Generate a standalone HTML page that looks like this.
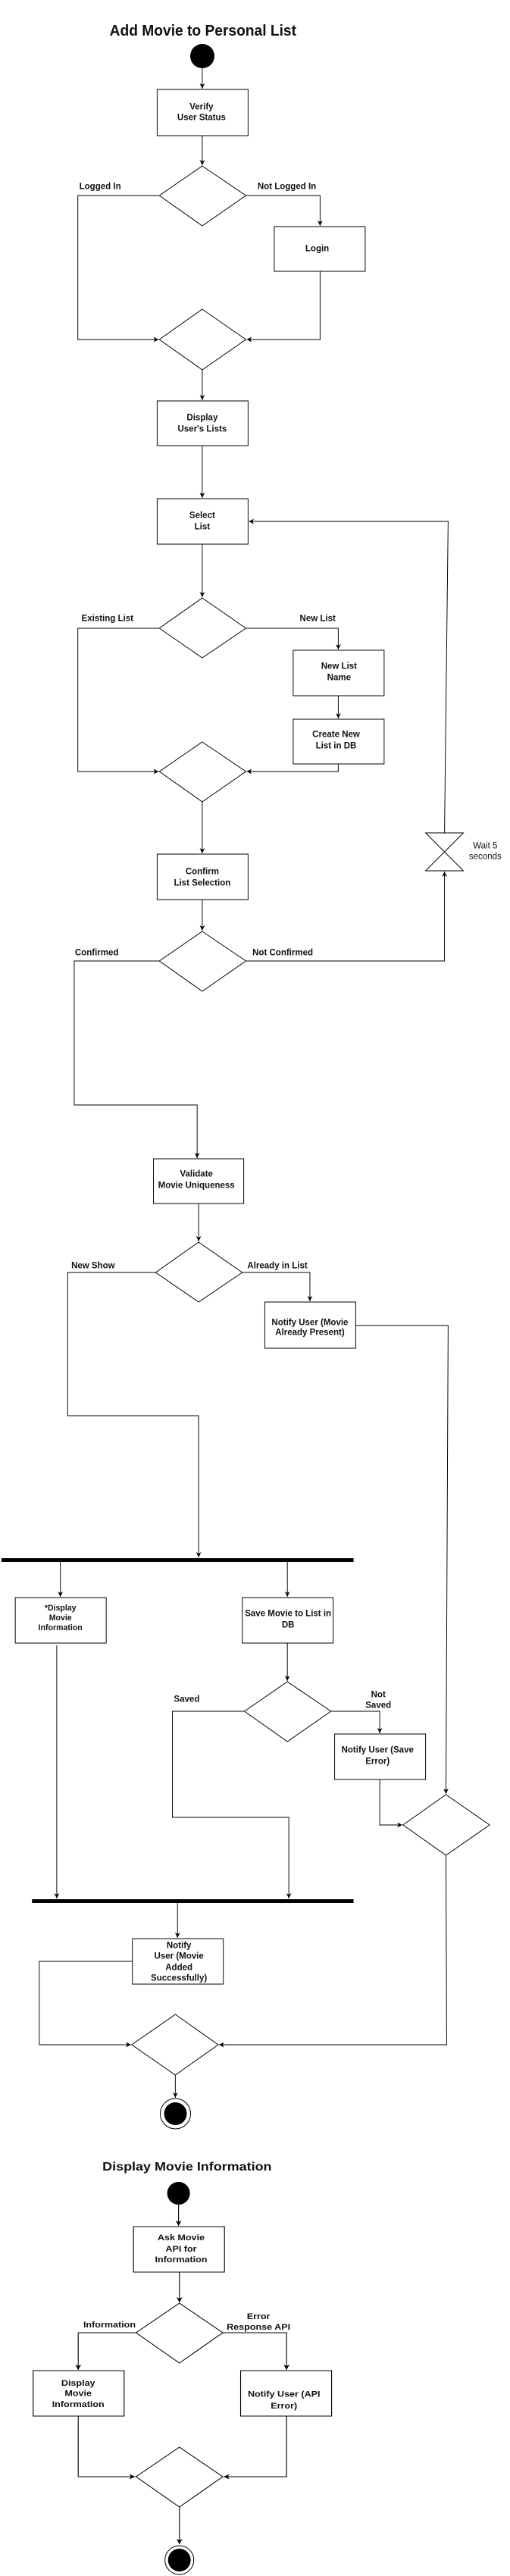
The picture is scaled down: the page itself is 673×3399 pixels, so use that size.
<!DOCTYPE html>
<html><head><meta charset="utf-8"><style>
html,body{margin:0;padding:0;background:#fff;}
svg{display:block;}
text{font-family:"Liberation Sans",Arial,sans-serif;font-size:12px;font-weight:bold;fill:#111;dominant-baseline:central;}
.c{text-anchor:middle;}
.s{font-size:11px;}
.n{font-weight:normal;}
.b text{font-size:11.2px;}
</style></head><body>
<svg width="673" height="3399" viewBox="0 0 673 3399" xmlns="http://www.w3.org/2000/svg">
<defs>
<marker id="a" markerWidth="8" markerHeight="8" refX="7" refY="4" orient="auto" markerUnits="userSpaceOnUse">
<path d="M0,0.5 L7,4 L0,7.5 L2,4 Z" fill="#000"/>
</marker>
</defs>
<g transform="scale(0.96,1)">
<g fill="none" stroke="#000" stroke-width="1">
<line x1="278" y1="90" x2="278" y2="117" marker-end="url(#a)"/>
<rect x="216" y="118" width="125" height="61"/>
<line x1="278" y1="179" x2="278" y2="218" marker-end="url(#a)"/>
<polygon points="278,219 338,258 278,298 219,258"/>
<polyline points="219,258 107,258 107,448 218,448" marker-end="url(#a)"/>
<polyline points="338,258 440,258 440,298" marker-end="url(#a)"/>
<rect x="377" y="299" width="125" height="59"/>
<polyline points="440,358 440,448 339,448" marker-end="url(#a)"/>
<polygon points="278,408 338,448 278,488 219,448"/>
<line x1="278" y1="488" x2="278" y2="528" marker-end="url(#a)"/>
<rect x="216" y="529" width="125" height="59"/>
<line x1="278" y1="588" x2="278" y2="657" marker-end="url(#a)"/>
<rect x="216" y="658" width="125" height="60"/>
<line x1="278" y1="718" x2="278" y2="788" marker-end="url(#a)"/>
<polygon points="278,789 338,829 278,868 219,829"/>
<polyline points="219,829 107,829 107,1018 218,1018" marker-end="url(#a)"/>
<polyline points="338,829 465,829 465,857" marker-end="url(#a)"/>
<rect x="403" y="858" width="125" height="60"/>
<line x1="465" y1="918" x2="465" y2="948" marker-end="url(#a)"/>
<rect x="403" y="949" width="125" height="59"/>
<polyline points="465,1008 465,1018 339,1018" marker-end="url(#a)"/>
<polygon points="278,979 338,1018 278,1058 219,1018"/>
<line x1="278" y1="1058" x2="278" y2="1126" marker-end="url(#a)"/>
<rect x="216" y="1127" width="125" height="60"/>
<line x1="278" y1="1187" x2="278" y2="1228" marker-end="url(#a)"/>
<polygon points="278,1229 338,1268 278,1308 219,1268"/>
<polyline points="338,1268 611,1268 611,1150" marker-end="url(#a)"/>
<polygon points="585,1099 637,1099 585,1149 637,1149"/>
<polyline points="611,1099 616,688 342,688" marker-end="url(#a)"/>
<polyline points="219,1268 102,1268 102,1458 271,1458 271,1528" marker-end="url(#a)"/>
<rect x="211" y="1529" width="124" height="59"/>
<line x1="273" y1="1588" x2="273" y2="1638" marker-end="url(#a)"/>
<polygon points="273,1639 333,1679 273,1718 214,1679"/>
<polyline points="214,1679 93,1679 93,1868 273,1868 273,2055" marker-end="url(#a)"/>
<polyline points="333,1679 426,1679 426,1717" marker-end="url(#a)"/>
<rect x="364" y="1718" width="125" height="61"/>
<polyline points="489,1749 616,1749 613,2367" marker-end="url(#a)"/>
<line x1="83" y1="2061" x2="83" y2="2107" marker-end="url(#a)"/>
<line x1="395" y1="2061" x2="395" y2="2107" marker-end="url(#a)"/>
<rect x="21" y="2108" width="125" height="60"/>
<rect x="333" y="2108" width="125" height="60"/>
<line x1="78" y1="2171" x2="78" y2="2505" marker-end="url(#a)"/>
<line x1="395" y1="2168" x2="395" y2="2218" marker-end="url(#a)"/>
<polygon points="395,2219 455,2258 395,2298 336,2258"/>
<polyline points="336,2258 237,2258 237,2398 397,2398 397,2505" marker-end="url(#a)"/>
<polyline points="455,2258 522,2258 522,2287" marker-end="url(#a)"/>
<rect x="460" y="2288" width="125" height="60"/>
<polyline points="522,2348 522,2408 553,2408" marker-end="url(#a)"/>
<polygon points="613,2368 673,2408 613,2448 554,2408"/>
<polyline points="613,2448 614,2698 301,2698" marker-end="url(#a)"/>
<line x1="244" y1="2511" x2="244" y2="2557" marker-end="url(#a)"/>
<rect x="182" y="2558" width="125" height="60"/>
<polyline points="182,2588 54,2588 54,2698 180,2698" marker-end="url(#a)"/>
<polygon points="241,2658 300,2698 241,2738 181,2698"/>
<line x1="241" y1="2738" x2="241" y2="2768" marker-end="url(#a)"/>
</g>
<rect x="2" y="2056" width="484" height="5" fill="#000"/>
<rect x="44" y="2506" width="442" height="5" fill="#000"/>

<text class="c" x="279" y="41" style="font-size:20px">Add Movie to Personal List</text>
<text class="c" x="277" y="141">Verify</text>
<text class="c" x="277" y="155">User Status</text>
<text x="109" y="246">Logged In</text>
<text x="354" y="246">Not Logged In</text>
<text class="c" x="436" y="328">Login</text>
<text class="c" x="278" y="551">Display</text>
<text class="c" x="278" y="566">User's Lists</text>
<text class="c" x="278" y="680">Select</text>
<text class="c" x="278" y="695">List</text>
<text x="112" y="816">Existing List</text>
<text x="412" y="816">New List</text>
<text class="c" x="466" y="879">New List</text>
<text class="c" x="466" y="894">Name</text>
<text class="c" x="462" y="969">Create New</text>
<text class="c" x="462" y="984">List in DB</text>
<text class="c n" x="667" y="1116">Wait 5</text>
<text class="c n" x="667" y="1130">seconds</text>
<text class="c" x="278" y="1150">Confirm</text>
<text class="c" x="278" y="1165">List Selection</text>
<text x="103" y="1257">Confirmed</text>
<text x="347" y="1257">Not Confirmed</text>
<text class="c" x="270" y="1549">Validate</text>
<text class="c" x="270" y="1564">Movie Uniqueness</text>
<text x="98" y="1670">New Show</text>
<text x="340" y="1670">Already in List</text>
<text class="c" x="426" y="1745">Notify User (Movie</text>
<text class="c" x="426" y="1758">Already Present)</text>
<text class="c s" x="83" y="2122">*Display</text>
<text class="c s" x="83" y="2135">Movie</text>
<text class="c s" x="83" y="2148">Information</text>
<text class="c" x="396" y="2129">Save Movie to List in</text>
<text class="c" x="396" y="2144">DB</text>
<text x="239" y="2242">Saved</text>
<text class="c" x="520" y="2236">Not</text>
<text class="c" x="520" y="2250">Saved</text>
<text class="c" x="519" y="2309">Notify User (Save</text>
<text class="c" x="519" y="2324">Error)</text>
<text class="c" x="246" y="2567">Notify</text>
<text class="c" x="246" y="2581">User (Movie</text>
<text class="c" x="246" y="2596">Added</text>
<text class="c" x="246" y="2610">Successfully)</text>
</g>

<circle cx="267" cy="74" r="16" fill="#000"/>
<circle cx="231.5" cy="2789" r="20" fill="none" stroke="#000"/>
<circle cx="231.5" cy="2789" r="15" fill="#000"/>

<g class="b" transform="scale(1.122,1)">
<g fill="none" stroke="#000" stroke-width="1">
<line x1="210" y1="2908" x2="210" y2="2937" marker-end="url(#a)"/>
<rect x="157" y="2938" width="107" height="60"/>
<line x1="211" y1="2998" x2="211" y2="3038" marker-end="url(#a)"/>
<polygon points="211,3039 262,3078 211,3118 160,3078"/>
<polyline points="160,3078 92,3078 92,3127" marker-end="url(#a)"/>
<polyline points="262,3078 337,3078 337,3127" marker-end="url(#a)"/>
<rect x="39" y="3128" width="107" height="60"/>
<rect x="283" y="3128" width="107" height="60"/>
<polyline points="92,3188 92,3268 159,3268" marker-end="url(#a)"/>
<polyline points="337,3188 337,3268 263,3268" marker-end="url(#a)"/>
<polygon points="211,3229 262,3268 211,3308 160,3268"/>
<line x1="211" y1="3308" x2="211" y2="3357" marker-end="url(#a)"/>
</g>
<text class="c" x="220" y="2859" style="font-size:16px">Display Movie Information</text>
<text class="c" x="213" y="2952">Ask Movie</text>
<text class="c" x="213" y="2967">API for</text>
<text class="c" x="213" y="2981">Information</text>
<text x="98" y="3067">Information</text>
<text class="c" x="304" y="3056">Error</text>
<text class="c" x="304" y="3070">Response API</text>
<text class="c" x="92" y="3144">Display</text>
<text class="c" x="92" y="3158">Movie</text>
<text class="c" x="92" y="3172">Information</text>
<text class="c" x="334" y="3159">Notify User (API</text>
<text class="c" x="334" y="3174">Error)</text>
</g>
<circle cx="235.6" cy="2894" r="15" fill="#000"/>
<circle cx="236.7" cy="3378" r="19" fill="none" stroke="#000"/>
<circle cx="236.7" cy="3378" r="15" fill="#000"/>
</svg>
</body></html>
